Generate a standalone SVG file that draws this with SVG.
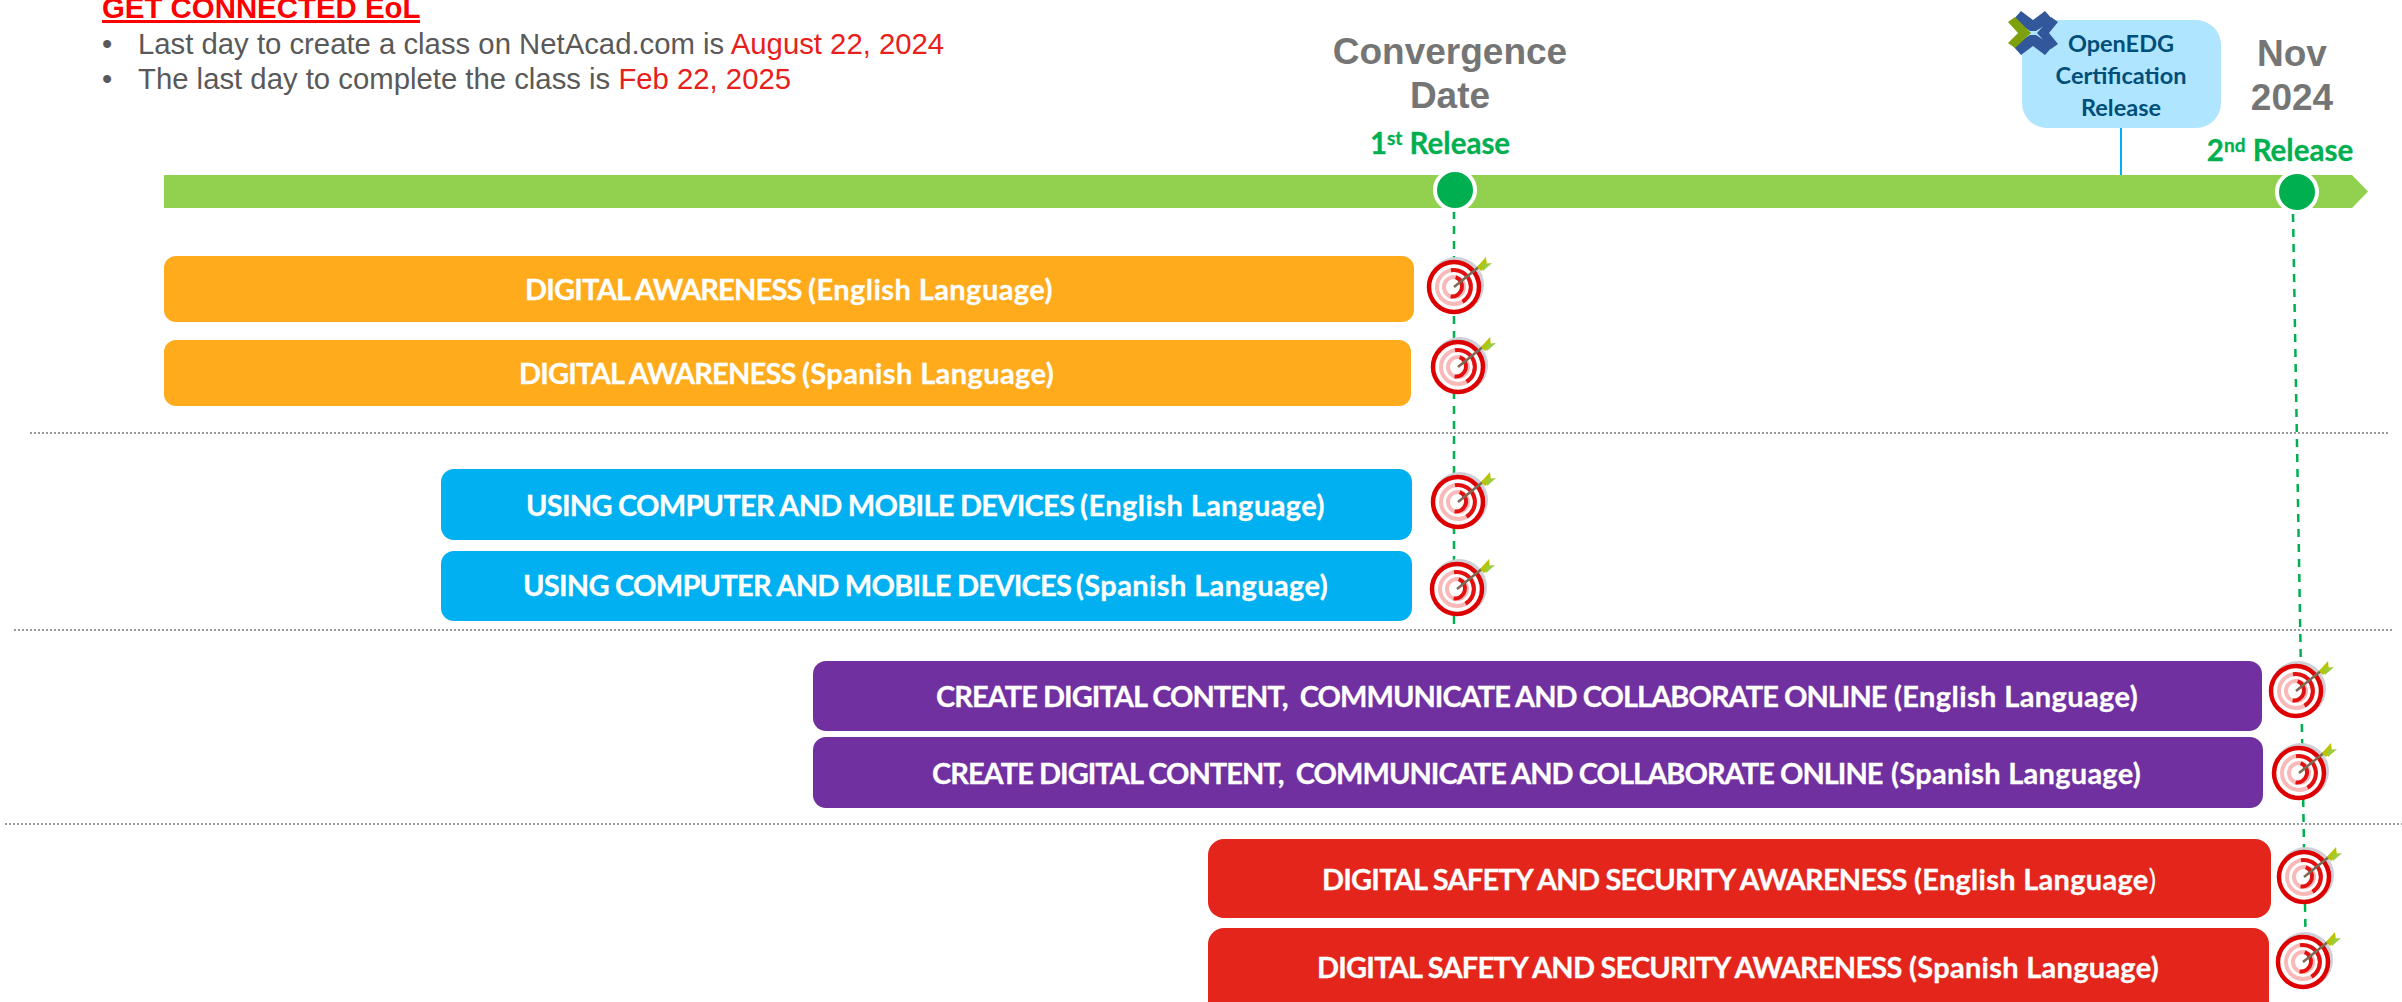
<svg xmlns="http://www.w3.org/2000/svg" width="2402" height="1002" viewBox="0 0 2402 1002">
<style>
text{font-family:"Liberation Sans",Arial,sans-serif;white-space:pre}
.b{font-family:Lato,"Noto Sans",sans-serif;font-weight:700;fill:#fff;font-size:29px;stroke:#fff;stroke-width:.3}
.h{font-weight:700;fill:#757575;font-size:37px;text-anchor:middle}
.r{font-family:Lato,"Noto Sans",sans-serif;font-weight:700;fill:#00B050;font-size:29.500px;text-anchor:middle;stroke:#00B050;stroke-width:.3}
.s{font-family:Lato,"Noto Sans",sans-serif;font-weight:700;fill:#004F7A;font-size:23.500px;text-anchor:middle}
.t{font-size:29.300px;fill:#595959}
.red{fill:#E8201C}
.dot{stroke:#9a9a9a;stroke-width:2;stroke-dasharray:2 2;fill:none}
.dash{stroke:#00B050;stroke-width:2.500;stroke-dasharray:8 7;fill:none}
.ms{fill:#00B050;stroke:#fff;stroke-width:4}
.ring{fill:none;stroke:#F9B9B9;stroke-width:4}
.arc{fill:none;stroke:#E21010;stroke-width:4}
</style>
<defs>
<filter id="soft" x="-10%" y="-10%" width="120%" height="120%"><feGaussianBlur stdDeviation="0.700"/></filter>
<g id="target">
<circle cx="2" cy="-2" r="28" fill="#cfcfd8"/>
<circle r="25" fill="#fff" stroke="#DE0000" stroke-width="4.500"/>
<circle class="ring" r="17"/>
<path class="arc" d="M-3-16.700A17 17 0 0 1 8.500 14.700"/>
<circle class="ring" r="10"/>
<path class="arc" d="M1.700-9.800A10 10 0 0 1-3.400 9.400"/>
<path d="M0 0L26-21" stroke="#7d6a55" stroke-width="2.500"/>
<path d="M23-20L32-30L33-21L27-16Z" fill="#B9C400"/>
<path d="M28-23L38-24L29-16Z" fill="#9CCB3B"/>
</g>
</defs>
<g id="header">
<text x="102" y="18" font-size="29.400" font-weight="700" fill="#FF0000">GET CONNECTED EoL</text>
<rect x="102" y="20" width="318" height="3" fill="#FF0000"/>
<text class="t" x="102" y="54">•</text>
<text class="t" x="138" y="54">Last day to create a class on NetAcad.com is <tspan class="red">August 22, 2024</tspan></text>
<text class="t" x="102" y="89">•</text>
<text class="t" x="138" y="89">The last day to complete the class is <tspan class="red">Feb 22, 2025</tspan></text>
</g>
<g id="connectors">
<path class="dot" d="M30 433H2388"/>
<path class="dot" d="M14 630H2392"/>
<path class="dot" d="M5 824H2402"/>
<path d="M2121 128V178" stroke="#00B0F0" stroke-width="2"/>
</g>
<g id="timeline"><path d="M164 175H2352L2368 191.500L2352 208H164Z" fill="#92D050"/></g>
<g id="connectors-dashed">
<path class="dash" d="M1454 211V625"/>
<path class="dash" d="M2293 214L2306 962"/>
</g>
<g id="milestone-1"><circle class="ms" cx="1455" cy="190" r="20"/></g>
<g id="milestone-2"><circle class="ms" cx="2297" cy="192" r="20"/></g>
<g id="convergence"><text class="h" x="1450" y="64">Convergence</text><text class="h" x="1450" y="108">Date</text></g>
<g id="nov"><text class="h" x="2292" y="66">Nov</text><text class="h" x="2292" y="110">2024</text></g>
<g id="release-1"><text class="r" x="1440" y="154">1<tspan font-size="19" dy="-9">st</tspan><tspan dy="9"> Release</tspan></text></g>
<g id="release-2"><text class="r" x="2280" y="161">2<tspan font-size="19" dy="-9">nd</tspan><tspan dy="9"> Release</tspan></text></g>
<g id="openedg">
<rect x="2022" y="20" width="199" height="108" rx="25" fill="#B0E5FF"/>
<text class="s" x="2121" y="52">OpenEDG</text>
<text class="s" x="2121" y="84">Certification</text>
<text class="s" x="2121" y="116">Release</text>
<g filter="url(#soft)">
<path d="M2021 11L2033 20L2045 11L2053 20L2036 31H2030L2013 20Z" fill="#33599B"/>
<path d="M2021 55L2033 46L2045 55L2053 46L2036 35H2030L2013 46Z" fill="#33599B"/>
<path d="M2058 22L2049 33L2058 44L2051 49L2037 33L2051 17Z" fill="#33599B"/>
<path d="M2008 22L2015 17L2031 33L2015 48L2008 43L2018 33Z" fill="#7FA011"/>
</g>
</g>
<g id="da-en"><rect x="164" y="256" width="1250" height="66" rx="12" fill="#FFAB1C"/><text class="b" x="525" y="300" letter-spacing="-.8">DIGITAL AWARENESS <tspan x="808" letter-spacing=".44">(English Language)</tspan></text></g>
<g id="da-es"><rect x="164" y="340" width="1247" height="66" rx="12" fill="#FFAB1C"/><text class="b" x="519" y="384" letter-spacing="-.8">DIGITAL AWARENESS <tspan x="802" letter-spacing=".39">(Spanish Language)</tspan></text></g>
<g id="uc-en"><rect x="441" y="469" width="971" height="71" rx="13" fill="#00B0F0"/><text class="b" x="526" y="516" letter-spacing="-.74">USING COMPUTER AND MOBILE DEVICES <tspan x="1080" letter-spacing=".44">(English Language)</tspan></text></g>
<g id="uc-es"><rect x="441" y="551" width="971" height="70" rx="13" fill="#00B0F0"/><text class="b" x="523" y="596" letter-spacing="-.74">USING COMPUTER AND MOBILE DEVICES <tspan x="1076" letter-spacing=".39">(Spanish Language)</tspan></text></g>
<g id="cd-en"><rect x="813" y="661" width="1449" height="70" rx="13" fill="#7030A0"/><text class="b" x="936" y="707" letter-spacing="-.97">CREATE DIGITAL CONTENT,  COMMUNICATE AND COLLABORATE ONLINE <tspan x="1894" letter-spacing=".39">(English Language)</tspan></text></g>
<g id="cd-es"><rect x="813" y="737" width="1450" height="71" rx="13" fill="#7030A0"/><text class="b" x="932" y="784" letter-spacing="-.97">CREATE DIGITAL CONTENT,  COMMUNICATE AND COLLABORATE ONLINE <tspan x="1891" letter-spacing=".28">(Spanish Language)</tspan></text></g>
<g id="ds-en"><rect x="1208" y="839" width="1063" height="79" rx="16" fill="#E4251B"/><text class="b" x="1322" y="890" letter-spacing="-.79">DIGITAL SAFETY AND SECURITY AWARENESS <tspan x="1914" letter-spacing=".28">(English Language<tspan font-weight="400" stroke="none">)</tspan></tspan></text></g>
<g id="ds-es"><rect x="1208" y="928" width="1061" height="90" rx="16" fill="#E4251B"/><text class="b" x="1317" y="978" letter-spacing="-.79">DIGITAL SAFETY AND SECURITY AWARENESS <tspan x="1909" letter-spacing=".28">(Spanish Language)</tspan></text></g>
<g id="target-1"><use href="#target" x="1454" y="287"/></g>
<g id="target-2"><use href="#target" x="1458" y="367"/></g>
<g id="target-3"><use href="#target" x="1458" y="502"/></g>
<g id="target-4"><use href="#target" x="1457" y="589"/></g>
<g id="target-5"><use href="#target" x="2296" y="691"/></g>
<g id="target-6"><use href="#target" x="2299" y="773"/></g>
<g id="target-7"><use href="#target" x="2304" y="877"/></g>
<g id="target-8"><use href="#target" x="2303" y="962"/></g>
</svg>
